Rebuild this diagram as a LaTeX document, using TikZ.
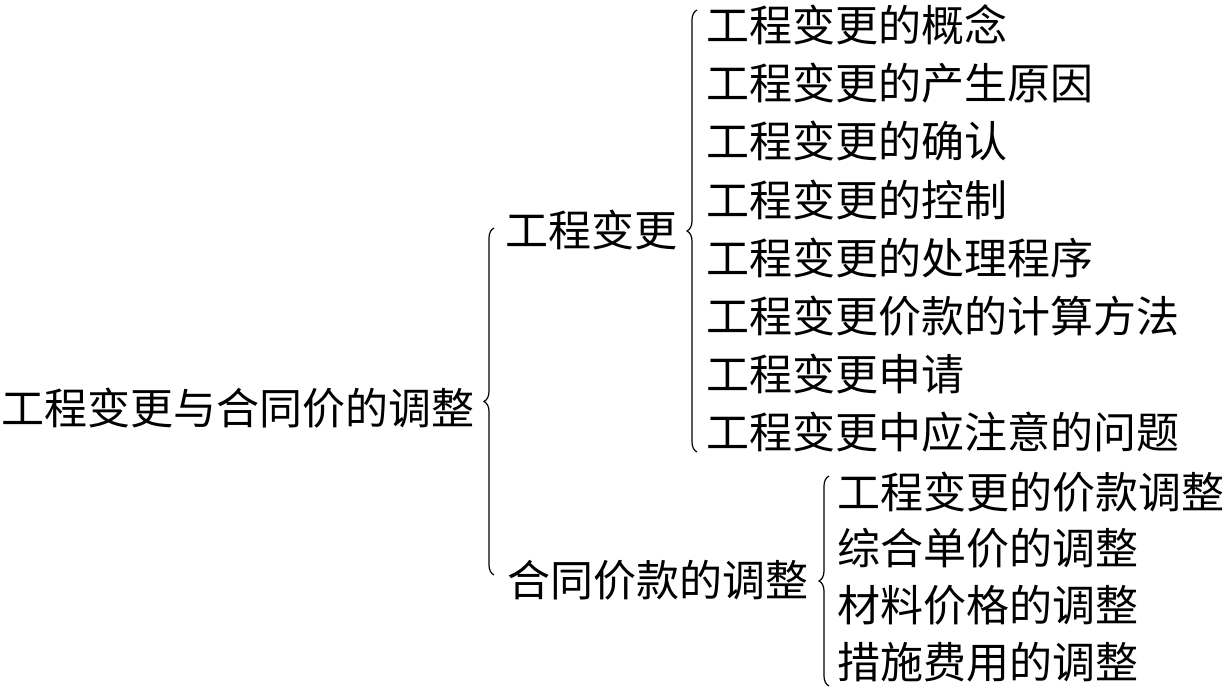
\documentclass[tikz,border=0pt]{standalone}
\usepackage{fontspec}
\setmainfont{Noto Sans CJK SC}
\usetikzlibrary{decorations.pathreplacing}
\tikzset{
  item/.style={anchor=west, inner sep=0pt, font=\fontsize{43}{43}\selectfont},
  bracket/.style={decorate, decoration={brace, amplitude=10pt}, line width=1.2pt}
}
\begin{document}
\begin{tikzpicture}[x=1pt, y=-1pt]
  \useasboundingbox (0,0) rectangle (1227,689);
  % root and level one
  \node[item] (root) at (1,408) {工程变更与合同价的调整};
  \node[item] (change) at (505,230) {工程变更};
  \node[item] (price) at (507,580) {合同价款的调整};
  \draw[bracket] (494,575) -- (494,228);
  % items of the first branch
  \foreach \Text [count=\i from 0] in {工程变更的概念, 工程变更的产生原因,
      工程变更的确认, 工程变更的控制, 工程变更的处理程序,
      工程变更价款的计算方法, 工程变更申请, 工程变更中应注意的问题}{
    \node[item] (change\i) at (706,{25+58.2*\i}) {\Text};
  }
  \draw[bracket] (697,452) -- (697,10);
  % items of the second branch
  \foreach \Text [count=\i from 0] in {工程变更的价款调整, 综合单价的调整,
      材料价格的调整, 措施费用的调整}{
    \node[item] (price\i) at (837,{492+56.7*\i}) {\Text};
  }
  \draw[bracket] (829,686) -- (829,476);
\end{tikzpicture}
\end{document}
